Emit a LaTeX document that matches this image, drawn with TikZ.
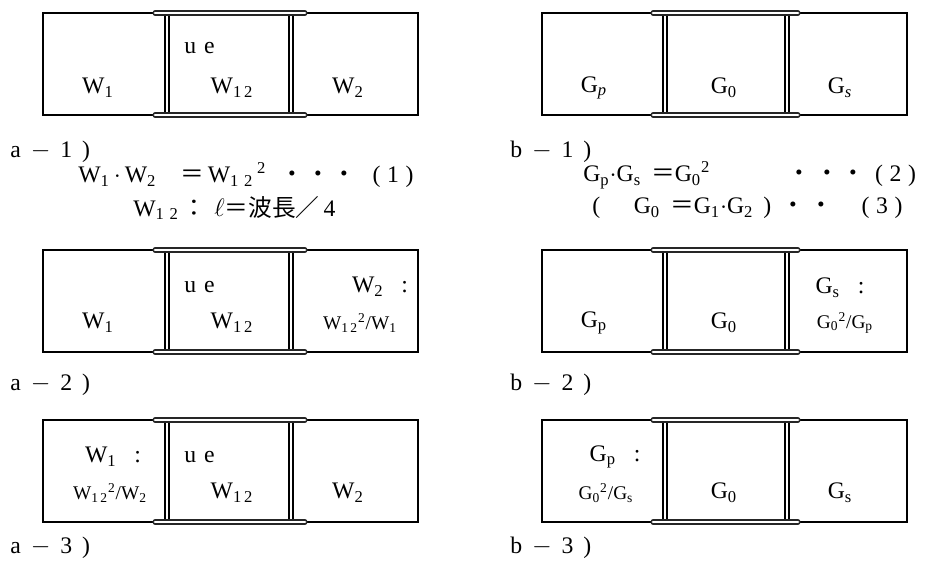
\documentclass[tikz,border=0pt]{standalone}
\usepackage{fontspec}
\setmainfont{Liberation Serif}
\newfontfamily\cjk{Noto Sans CJK JP}
\tikzset{
  frame/.style = {line width=0.8pt},
  wall/.style  = {double, double distance=1.6pt, line width=0.8pt},
  rail/.style  = {double, double distance=1.5pt, line width=0.7pt,
                  line cap=round, draw=black!85},
  txt/.style   = {inner sep=0pt, font=\fontsize{13.5}{15}\selectfont},
  ratio/.style = {inner sep=0pt, font=\fontsize{11}{13}\selectfont}
}
\begin{document}
\begin{tikzpicture}[x=0.02cm,y=-0.02cm]
  \useasboundingbox (0,0) rectangle (930,567);
  % six three-part frames: column a on the left, column b on the right
  \foreach \y in {13,250,420} {
    \draw[frame] (43,\y) rectangle (418,\y+102);
    \draw[frame] (542,\y) rectangle (907,\y+102);
    \foreach \x in {167,291,665,787} { \draw[wall] (\x,\y) -- (\x,\y+102); }
    \foreach \xa/\xb in {155/305,653/798} {
      \draw[rail] (\xa,\y) -- (\xb,\y);
      \draw[rail] (\xa,\y+102) -- (\xb,\y+102); }
  }
  % a-1
  \node[txt] (a1w1) at (98,88) {W\textsubscript{1}};
  \node[txt,anchor=west] (a1ue) at (184,48) {u\,\,e};
  \node[txt] (a1w12) at (232,88) {W\textsubscript{1\,2}};
  \node[txt] (a1w2) at (348,88) {W\textsubscript{2}};
  \node[txt,anchor=west] (a1) at (10,152) {a\, $-$\, 1\, )};
  \node[txt,anchor=west] (eqa) at (78,175)
    {W\textsubscript{1}\,$\cdot$\,W\textsubscript{2}\quad{\cjk ＝}\,W\textsubscript{1\,\,2}\,\textsuperscript{2}\,\,
     {\cjk ・}\hspace{0.1em}{\cjk ・}\hspace{0.1em}{\cjk ・}\hspace{0.7em}(\;1\;)};
  \node[txt,anchor=west] (eqq) at (133,208)
    {W\textsubscript{1\,\,2}\,{\cjk ：}\,\,$\ell${\cjk ＝波長／}\,4};
  % a-2
  \node[txt] (a2w1) at (98,323) {W\textsubscript{1}};
  \node[txt,anchor=west] (a2ue) at (184,287) {u\,\,e};
  \node[txt] (a2w12) at (232,323) {W\textsubscript{1\,2}};
  \node[txt] (a2w2) at (380,287) {W\textsubscript{2}\,\,\, :};
  \node[ratio] (a2r) at (360,323) {W\textsubscript{1\,2}\textsuperscript{2}/W\textsubscript{1}};
  \node[txt,anchor=west] (a2) at (10,385) {a\, $-$\, 2\, )};
  % a-3
  \node[txt] (a3w1) at (113,457) {W\textsubscript{1}\,\,\, :};
  \node[ratio] (a3r) at (110,493) {W\textsubscript{1\,2}\textsuperscript{2}/W\textsubscript{2}};
  \node[txt,anchor=west] (a3ue) at (184,457) {u\,\,e};
  \node[txt] (a3w12) at (232,493) {W\textsubscript{1\,2}};
  \node[txt] (a3w2) at (348,493) {W\textsubscript{2}};
  \node[txt,anchor=west] (a3) at (10,548) {a\, $-$\, 3\, )};
  % b-1
  \node[txt] (b1gp) at (594,88) {G\textsubscript{\itshape p}};
  \node[txt] (b1g0) at (724,88) {G\textsubscript{0}};
  \node[txt] (b1gs) at (840,88) {G\textsubscript{\itshape s}};
  \node[txt,anchor=west] (b1) at (510,152) {b\, $-$\, 1\, )};
  \node[txt,anchor=west] (eqb) at (583,175)
    {G\textsubscript{p}$\cdot$G\textsubscript{s}\, {\cjk ＝}G\textsubscript{0}\textsuperscript{2}\hspace{3.0em}
     {\cjk ・}\hspace{0.2em}{\cjk ・}\hspace{0.1em}{\cjk ・}\hspace{0.4em}(\;2\;)};
  \node[txt,anchor=west] (eqc) at (592,208)
    {(\quad\, G\textsubscript{0}\, {\cjk ＝}G\textsubscript{1}$\cdot$G\textsubscript{2}\, )\,
     {\cjk ・}\hspace{0.2em}{\cjk ・}\hspace{1.2em}(\;3\;)};
  % b-2
  \node[txt] (b2gp) at (594,323) {G\textsubscript{p}};
  \node[txt] (b2g0) at (724,323) {G\textsubscript{0}};
  \node[txt] (b2gs) at (840,288) {G\textsubscript{s}\,\,\, :};
  \node[ratio] (b2r) at (845,323) {G\textsubscript{0}\textsuperscript{2}/G\textsubscript{p}};
  \node[txt,anchor=west] (b2) at (510,385) {b\, $-$\, 2\, )};
  % b-3
  \node[txt] (b3gp) at (615,457) {G\textsubscript{p}\,\,\, :};
  \node[ratio] (b3r) at (606,493) {G\textsubscript{0}\textsuperscript{2}/G\textsubscript{s}};
  \node[txt] (b3g0) at (724,493) {G\textsubscript{0}};
  \node[txt] (b3gs) at (840,493) {G\textsubscript{s}};
  \node[txt,anchor=west] (b3) at (510,548) {b\, $-$\, 3\, )};
\end{tikzpicture}
\end{document}
